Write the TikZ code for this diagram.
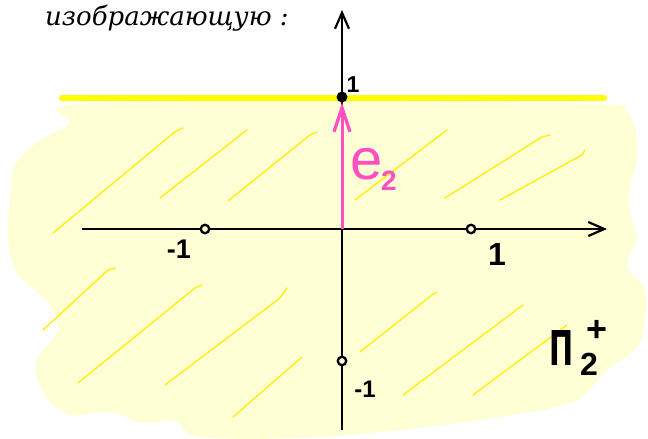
\documentclass[tikz,border=0pt]{standalone}
\usepackage{fontspec}
\setmainfont{Liberation Sans}
\newfontfamily\handfont{DejaVu Serif}
\newfontfamily\cyrsans{DejaVu Sans}
\usetikzlibrary{arrows.meta}
\definecolor{blobfill}{HTML}{FFFFD6}
\definecolor{hatchy}{HTML}{FFF000}
\definecolor{lineyellow}{HTML}{FFFF00}
\definecolor{vecpink}{HTML}{FF4FC3}
\begin{document}
\begin{tikzpicture}[x=1pt,y=-1pt,
  hatch/.style={hatchy, line width=1.3pt, line cap=round},
  axisline/.style={black, line width=2pt, -{Straight Barb[length=16pt,width=14pt,line width=2.2pt]}},
  ticko/.style={circle, draw=black, line width=2.3pt, fill=blobfill, inner sep=0pt, minimum size=8.5pt},
  lbl/.style={inner sep=0pt, text=black}]
\useasboundingbox (0,0) rectangle (648,439);
\clip (0,0) rectangle (648,439);
% shaded half-plane
\fill[blobfill] plot[smooth cycle, tension=0.55] coordinates {
 (75,104) (340,101) (600,104) (625,110) (636,132) (637,160) (630,185) (630,213)
 (637,238) (627,265) (645,290) (645,320) (637,347) (605,372) (573,402) (493,418)
 (400,430) (300,438) (200,437) (175,421) (143,423) (118,414) (100,412) (70,415)
 (46,397) (36,362) (58,330) (46,300) (18,275) (8,240) (10,200) (15,165) (40,140) (70,124)};
% hatching
\draw[hatch] (53,233) -- (176,131) -- (183,128);
\draw[hatch] (160,198) -- (243,133) -- (247,130);
\draw[hatch] (228,201) -- (310,135) -- (317,132);
\draw[hatch] (355,200) -- (447,130);
\draw[hatch] (445,198) -- (542,137) -- (550,135);
\draw[hatch] (500,200) -- (582,155) -- (585,150);
\draw[hatch] (43,330) -- (108,270) -- (115,268);
\draw[hatch] (78,383) -- (195,288) -- (202,285);
\draw[hatch] (165,385) -- (280,298) -- (287,288);
\draw[hatch] (233,417) -- (302,357);
\draw[hatch] (360,352) -- (432,295) -- (437,292);
\draw[hatch] (403,395) -- (523,305);
\draw[hatch] (473,395) -- (567,325);
% boundary line y = 1
\coordinate (bl) at (62,98);
\coordinate (br) at (604,98);
\draw[lineyellow, line width=6pt, line cap=round] (bl) -- (br);
% axes
\coordinate (xs) at (82,229);
\coordinate (xe) at (607,229);
\coordinate (ys) at (342,430);
\coordinate (ye) at (342,10);
\coordinate (o) at (342,229);
\draw[axisline] (xs) -- (xe);
\draw[axisline] (ys) -- (ye);
% point (0,1)
\node[circle, fill=black, minimum size=11pt, inner sep=0pt] (one) at (342,97) {};
% vector e2
\draw[vecpink, line width=3pt, -{Straight Barb[length=24pt,width=16pt,line width=3.2pt]}] (o) -- (one.south);
% ticks
\node[ticko] (tm1) at (205,229) {};
\node[ticko] (tp1) at (471,229) {};
\node[ticko] (tym1) at (342,361) {};
% labels
\node[lbl, font=\bfseries\fontsize{27}{27}\selectfont] (lm1) at (179,249) {-1};
\node[lbl, font=\bfseries\fontsize{32}{32}\selectfont] (lp1) at (497,254) {1};
\node[lbl, font=\bfseries\fontsize{24}{24}\selectfont] (lym1) at (365,389) {-1};
\node[lbl, font=\bfseries\fontsize{23}{23}\selectfont] (ly1) at (353,85) {1};
\node[inner sep=0pt, text=vecpink, font=\fontsize{58}{58}\selectfont, anchor=base west] (e) at (350,179) {e};
\node[inner sep=0pt, text=vecpink, font=\bfseries\fontsize{28}{28}\selectfont, anchor=base west] (etwo) at (381,190) {2};
\node[lbl, font=\cyrsans\bfseries\fontsize{48}{48}\selectfont, xscale=0.6, anchor=base] (pi) at (562,365) {П};
\node[lbl, font=\bfseries\fontsize{32}{32}\selectfont, anchor=base] (pisub) at (589,375) {2};
\node[lbl, font=\bfseries\fontsize{36}{36}\selectfont] (pisup) at (597,331) {+};
% handwritten caption
\node[lbl, font=\handfont\itshape\fontsize{26}{26}\selectfont, anchor=base west] (cap) at (45,25) {изображающую :};
\end{tikzpicture}
\end{document}
